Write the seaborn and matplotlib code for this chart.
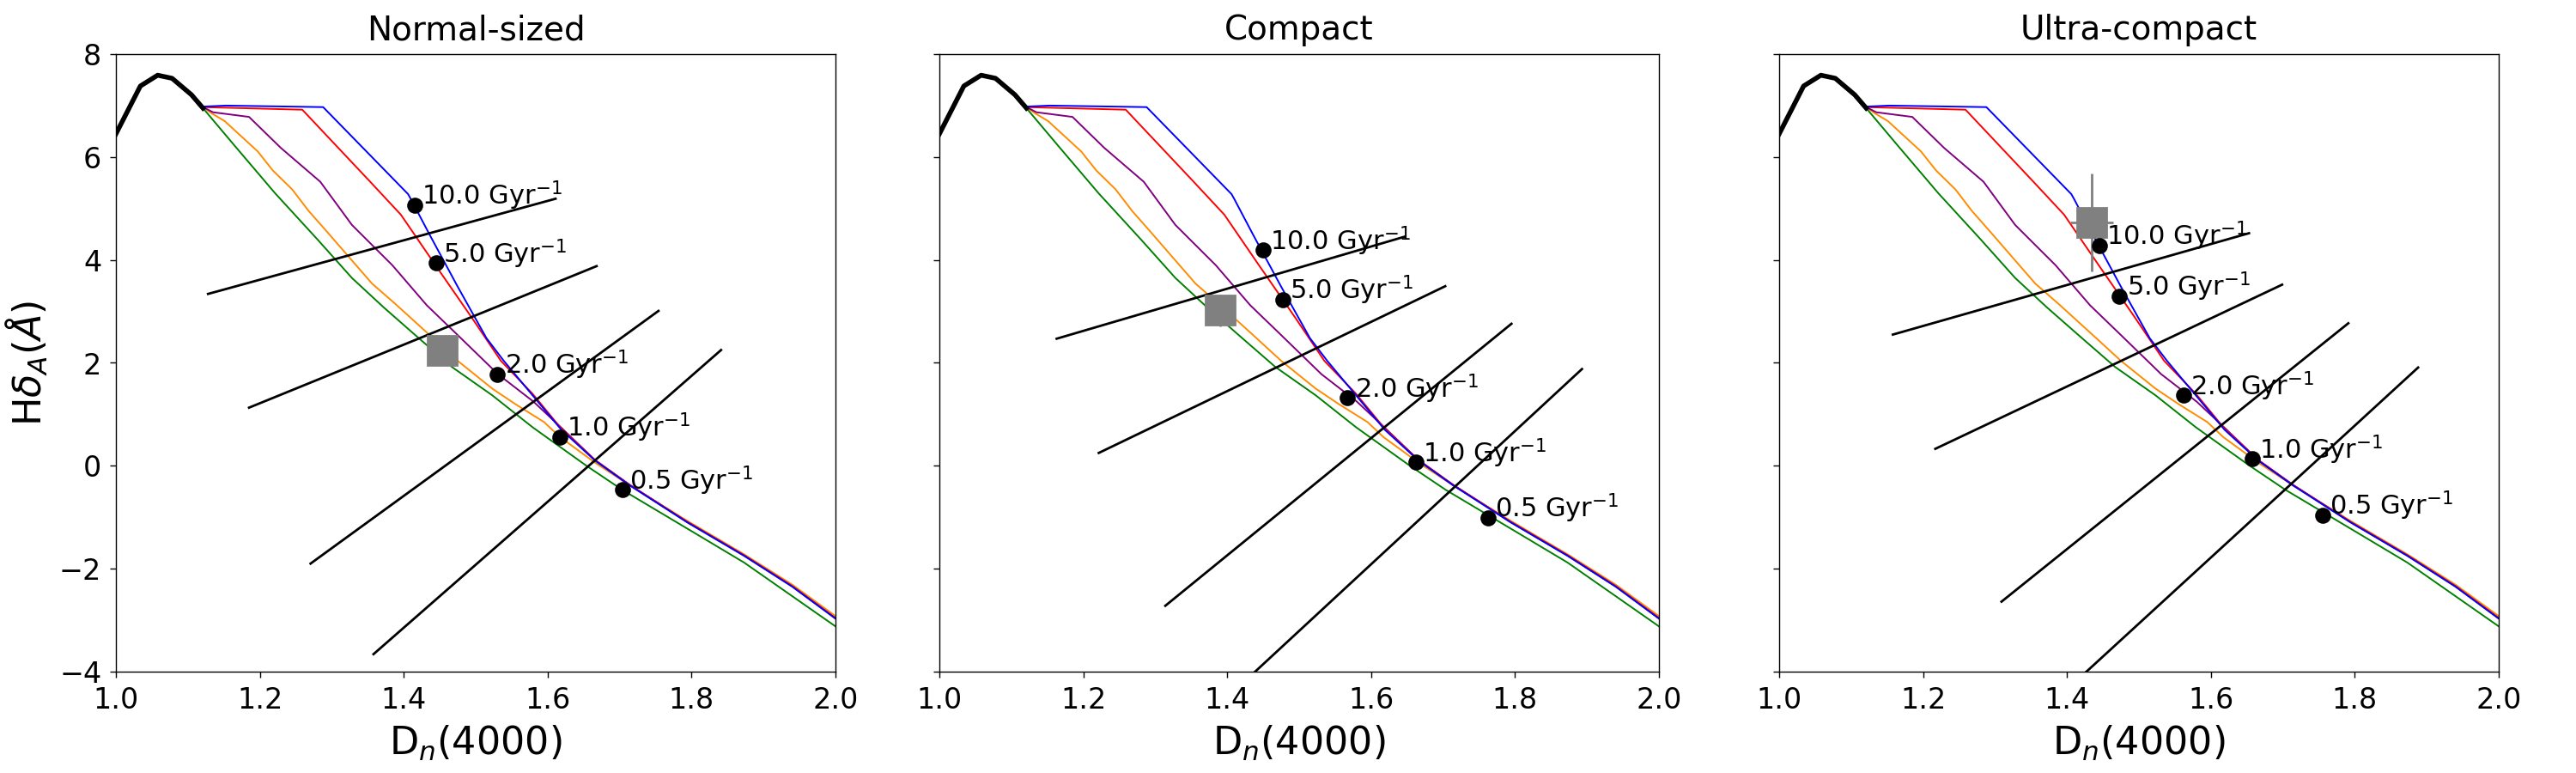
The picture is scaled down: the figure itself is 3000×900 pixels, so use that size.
import numpy as np
import matplotlib
matplotlib.use("Agg")
import matplotlib.pyplot as plt
import seaborn as sns

# pistas del modelo (iguales en los tres paneles)
negro_x = [1.0, 1.034, 1.058, 1.078, 1.105, 1.121]
negro_y = [6.45, 7.38, 7.59, 7.53, 7.21, 6.95]

azul_x = [1.121, 1.153, 1.288, 1.406, 1.410, 1.436, 1.475, 1.515, 1.539, 1.579,
          1.619, 1.666, 1.714, 1.794, 1.873, 1.940, 2.0]
azul_y = [6.98, 7.00, 6.97, 5.28, 5.18, 4.49, 3.48, 2.48, 2.04, 1.37,
          0.70, 0.10, -0.38, -1.10, -1.75, -2.35, -2.97]

rojo_x = [1.121, 1.259, 1.352, 1.396, 1.444, 1.495, 1.535, 1.579, 1.619, 1.666,
          1.714, 1.794, 1.873, 1.940, 2.0]
rojo_y = [6.97, 6.92, 5.54, 4.88, 3.90, 2.87, 2.04, 1.40, 0.72, 0.11,
          -0.37, -1.09, -1.74, -2.34, -2.96]

morado_x = [1.121, 1.135, 1.185, 1.229, 1.284, 1.328, 1.384, 1.432, 1.475, 1.531,
            1.580, 1.619, 1.666, 1.714, 1.794, 1.873, 1.940, 2.0]
morado_y = [6.97, 6.87, 6.78, 6.18, 5.52, 4.68, 3.90, 3.12, 2.54, 1.78,
            1.25, 0.74, 0.11, -0.37, -1.09, -1.74, -2.34, -2.96]

naranja_x = [1.121, 1.133, 1.151, 1.197, 1.218, 1.245, 1.268, 1.292, 1.328, 1.356,
             1.388, 1.436, 1.475, 1.523, 1.555, 1.595, 1.617, 1.666, 1.714, 1.794,
             1.873, 1.940, 2.0]
naranja_y = [6.97, 6.85, 6.70, 6.11, 5.74, 5.37, 4.95, 4.57, 3.99, 3.54,
             3.15, 2.54, 2.04, 1.50, 1.20, 0.85, 0.56, 0.06, -0.38, -1.07,
             -1.72, -2.31, -2.92]

verde_x = [1.121, 1.165, 1.221, 1.280, 1.328, 1.372, 1.416, 1.467, 1.523, 1.579,
           1.654, 1.704, 1.794, 1.873, 2.0]
verde_y = [6.95, 6.22, 5.30, 4.40, 3.65, 3.08, 2.54, 1.92, 1.37, 0.75,
           0.0, -0.47, -1.22, -1.88, -3.12]

pistas = [(verde_x, verde_y, 'green'), (naranja_x, naranja_y, 'darkorange'),
          (morado_x, morado_y, 'purple'), (rojo_x, rojo_y, 'red'),
          (azul_x, azul_y, 'blue')]

titulos = ['Normal-sized', 'Compact', 'Ultra-compact']
etiquetas = ['10.0 Gyr$^{-1}$', '5.0 Gyr$^{-1}$', '2.0 Gyr$^{-1}$',
             '1.0 Gyr$^{-1}$', '0.5 Gyr$^{-1}$']

# puntos de cada panel
puntos_x = [[1.415, 1.445, 1.530, 1.617, 1.704],
            [1.450, 1.477, 1.567, 1.662, 1.762],
            [1.445, 1.473, 1.562, 1.657, 1.755]]
puntos_y = [[5.07, 3.94, 1.78, 0.56, -0.47],
            [4.19, 3.23, 1.32, 0.07, -1.01],
            [4.28, 3.30, 1.37, 0.14, -0.96]]

# rectas negras: (x0, y0, x1, y1)
rectas = [[(1.128, 3.34, 1.611, 5.19), (1.185, 1.13, 1.668, 3.88),
           (1.2705, -1.90, 1.754, 3.01), (1.358, -3.66, 1.841, 2.25)],
          [(1.163, 2.47, 1.646, 4.45), (1.2215, 0.25, 1.703, 3.49),
           (1.314, -2.72, 1.795, 2.76), (1.411, -4.36, 1.893, 1.88)],
          [(1.158, 2.55, 1.653, 4.52), (1.217, 0.33, 1.699, 3.52),
           (1.309, -2.64, 1.791, 2.77), (1.406, -4.27, 1.888, 1.91)]]

# observacion (cuadrado gris)
obs_x = [1.453, 1.390, 1.434]
obs_y = [2.24, 3.02, 4.73]
obs_xerr = [0.01, 0.012, 0.030]
obs_yerr = [0.15, 0.31, 0.95]

fig = plt.figure(figsize=(15, 4.5), dpi=200)
W, H = 3000.0, 900.0
izq = [135, 1094, 2072]
axes = []
for i in range(3):
    ax = fig.add_axes([izq[i] / W, (H - 782) / H, 838 / W, 719 / H],
                      sharey=axes[0] if axes else None)
    axes.append(ax)

for i, ax in enumerate(axes):
    for xs, ys, c in pistas:
        sns.lineplot(x=xs, y=ys, color=c, linewidth=0.7, sort=False,
                     estimator=None, ax=ax)
    sns.lineplot(x=negro_x, y=negro_y, color='black', linewidth=2, sort=False,
                 estimator=None, ax=ax)
    for x0, y0, x1, y1 in rectas[i]:
        sns.lineplot(x=[x0, x1], y=[y0, y1], color='black', linewidth=1,
                     sort=False, estimator=None, ax=ax)
    ax.errorbar(obs_x[i], obs_y[i], xerr=obs_xerr[i], yerr=obs_yerr[i],
                fmt='s', color='gray', ms=12, elinewidth=1, zorder=4)
    sns.scatterplot(x=puntos_x[i], y=puntos_y[i], color='black', s=45,
                    linewidth=0, zorder=5, ax=ax)
    for px, py, t in zip(puntos_x[i], puntos_y[i], etiquetas):
        ax.text(px + 0.01, py, t, fontsize=11, zorder=6)

    ax.set_xlim(1.0, 2.0)
    ax.set_ylim(-4, 8)
    ax.set_xticks(np.arange(1.0, 2.01, 0.2))
    ax.set_yticks(np.arange(-4, 8.1, 2))
    ax.tick_params(labelsize=12, length=2.5, width=0.5)
    for s in ax.spines.values():
        s.set_linewidth(0.5)
    ax.set_title(titulos[i], fontsize=14)
    ax.set_xlabel('D$_n$(4000)', fontsize=16)
    if i == 0:
        ax.set_ylabel(r'H$\delta_A(\AA)$', fontsize=16)
    else:
        ax.tick_params(labelleft=False)
        ax.set_ylabel('')

fig.savefig('out.png', dpi=200)
